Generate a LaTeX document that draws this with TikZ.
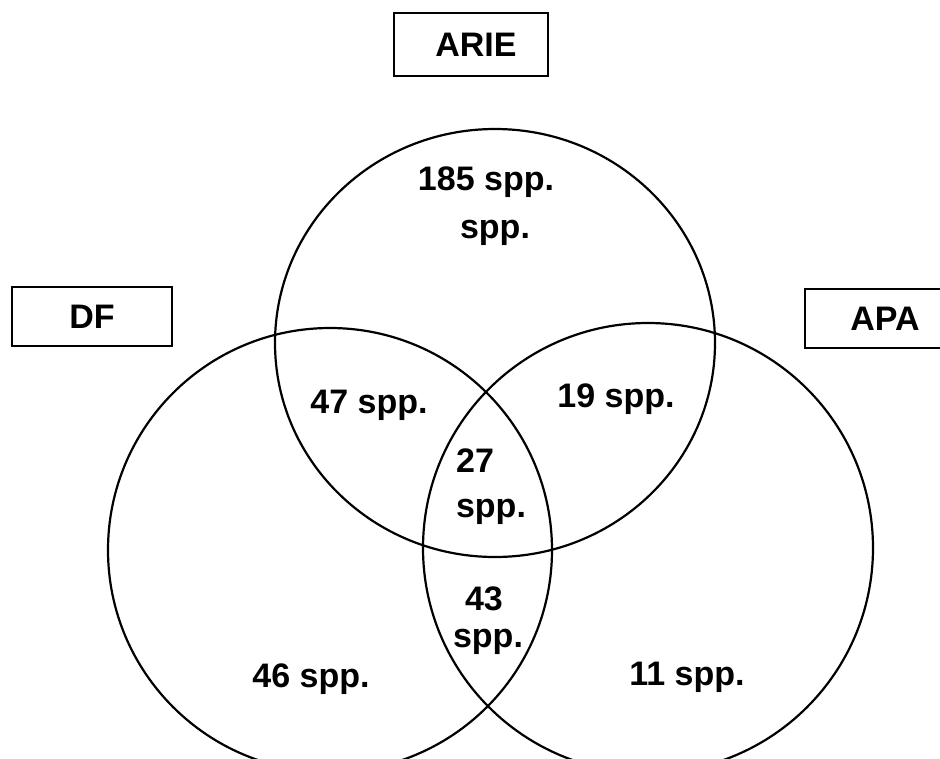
\documentclass[tikz,border=0pt]{standalone}
\usepackage{fontspec}
\setmainfont{Liberation Sans}
\tikzset{
  venn/.style={line width=2.2pt, draw=black},
  lbl/.style={anchor=base, inner sep=0pt, font=\fontsize{34}{38}\selectfont\bfseries},
  setbox/.style={draw=black, line width=2.6pt, rectangle, inner sep=0pt, font=\fontsize{34}{38}\selectfont\bfseries}
}
\begin{document}
\begin{tikzpicture}[x=1pt,y=-1pt]
\useasboundingbox (0,0) rectangle (940,758);
\fill[white] (0,0) rectangle (940,758);
% circles
\draw[venn] (495,343) ellipse [x radius=220pt, y radius=214pt];
\draw[venn] (330,550) circle [radius=222pt];
\draw[venn] (648,548) circle [radius=225pt];
% set boxes
\node[setbox, minimum width=154pt, minimum height=63pt] (arie) at (471,44.5) {\hspace*{10pt}ARIE};
\node[setbox, minimum width=160pt, minimum height=59pt] (df) at (92,316.5) {DF};
\node[setbox, minimum width=160pt, minimum height=59pt] (apa) at (885,318.5) {APA};
% region labels
\node[lbl] (n185) at (486,190) {185 spp.};
\node[lbl] (n185b) at (495,238) {spp.};
\node[lbl] (n47) at (369,413) {47 spp.};
\node[lbl] (n19) at (616,407) {19 spp.};
\node[lbl] (n27) at (475,472) {27};
\node[lbl] (n27b) at (491,517) {spp.};
\node[lbl] (n43) at (484,610) {43};
\node[lbl] (n43b) at (488,647) {spp.};
\node[lbl] (n46) at (311,687) {46 spp.};
\node[lbl] (n11) at (687,685) {11 spp.};
\end{tikzpicture}
\end{document}
